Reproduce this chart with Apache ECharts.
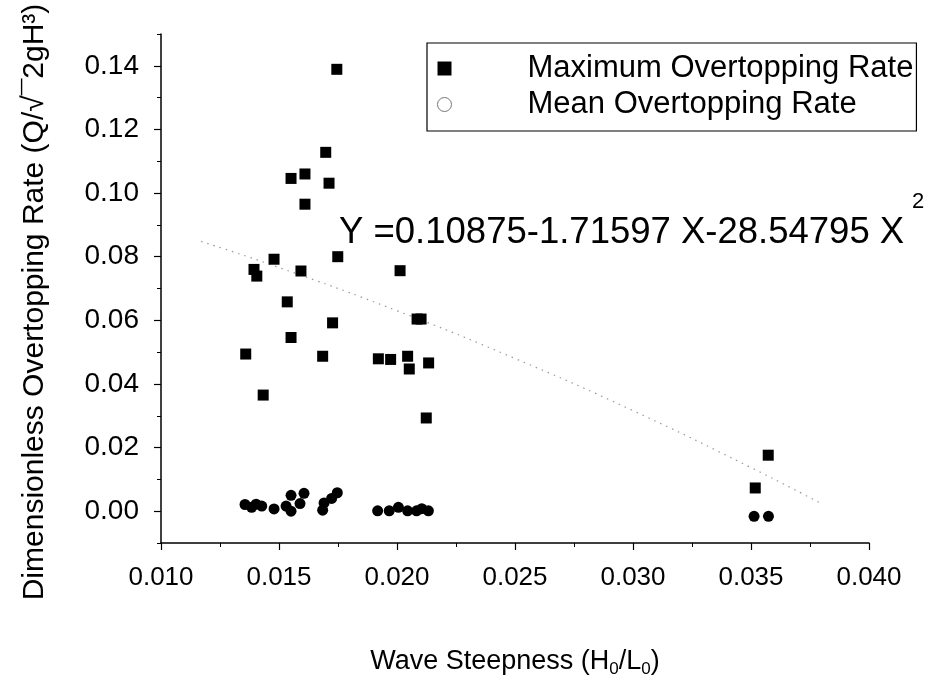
<!DOCTYPE html>
<html>
<head>
<meta charset="utf-8">
<script src="https://cdn.jsdelivr.net/npm/echarts@6/dist/echarts.min.js"></script>
<style>
  html, body { margin: 0; padding: 0; background: #fff; }
  #chart { width: 932px; height: 683px; }
</style>
</head>
<body>
<div id="chart"></div>
<script>
// ---- data ----
const maxX = [0.01745, 0.01698, 0.01610, 0.01551, 0.01712, 0.01610, 0.01479, 0.01749, 0.01394, 0.01406,
              0.01593, 0.02013, 0.01535, 0.01727, 0.02085, 0.02102, 0.01551, 0.01359, 0.01685, 0.01921,
              0.01973, 0.02045, 0.02052, 0.02134, 0.01433, 0.02124, 0.03573, 0.03518];
const maxY = [0.1389, 0.1128, 0.1060, 0.1046, 0.1031, 0.0965, 0.0792, 0.0800, 0.0760, 0.0739,
              0.0755, 0.0756, 0.0658, 0.0592, 0.0604, 0.0604, 0.0546, 0.0494, 0.0487, 0.0479,
              0.0477, 0.0487, 0.0447, 0.0466, 0.0365, 0.0293, 0.0176, 0.0073];

const meanX = [0.01356, 0.01384, 0.01403, 0.01427, 0.01479, 0.01530, 0.01551, 0.01551, 0.01589, 0.01606,
               0.01685, 0.01691, 0.01723, 0.01747, 0.01918, 0.01967, 0.02006, 0.02045, 0.02083, 0.02105,
               0.02133, 0.03513, 0.03574];
const meanY = [0.0021, 0.0012, 0.0022, 0.0016, 0.0007, 0.0016, 0.0050, 0.0000, 0.0024, 0.0056,
               0.0003, 0.0026, 0.0040, 0.0058, 0.0001, 0.0001, 0.0012, 0.0001, 0.0001, 0.0008,
               0.0001, -0.0016, -0.0016];

// fitted curve, points
const fitX = [0.0117, 0.015, 0.020, 0.025, 0.030, 0.035, 0.038];
const fitY = [0.0848, 0.0766, 0.0630, 0.0480, 0.0316, 0.0137, 0.0023];

const xTickValues = [0.010, 0.015, 0.020, 0.025, 0.030, 0.035, 0.040];
const yTickValues = [0.00, 0.02, 0.04, 0.06, 0.08, 0.10, 0.12, 0.14];
const yMinorTickValues = [-0.01, 0.01, 0.03, 0.05, 0.07, 0.09, 0.11, 0.13, 0.15];

const seriesNames = ['Maximum Overtopping Rate', 'Mean Overtopping Rate'];
const equationText = 'Y =0.10875-1.71597 X-28.54795 X';
const equationSup = '2';
const xTitle = ['Wave Steepness (H', '0', '/L', '0', ')'];
const yTitle = 'Dimensionless Overtopping Rate (Q/\u221A\u00AF2gH\u00B3)';

// ---- chart ----
const FONT = "'Liberation Sans', Arial, sans-serif";
const zip = (a, b) => a.map((v, i) => [v, b[i]]);

const chart = echarts.init(document.getElementById('chart'), null, { renderer: 'canvas' });

chart.setOption({
  backgroundColor: '#fff',
  animation: false,
  textStyle: { fontFamily: FONT, color: '#000' },
  grid: { left: 161, right: 63, top: 34, bottom: 140, containLabel: false },
  xAxis: {
    type: 'value',
    min: xTickValues[0],
    max: xTickValues[xTickValues.length - 1],
    interval: 0.005,
    axisLine: { show: true, onZero: false, lineStyle: { color: '#000', width: 1.5 } },
    axisTick: { show: true, inside: false, length: 7, lineStyle: { color: '#000', width: 1.2 } },
    minorTick: { show: true, splitNumber: 2, length: 4, lineStyle: { color: '#000', width: 1 } },
    splitLine: { show: false },
    axisLabel: {
      color: '#000', fontFamily: FONT, fontSize: 26, margin: 22,
      formatter: v => v.toFixed(3)
    },
    name: '{t|' + xTitle[0] + '}{s|' + xTitle[1] + '}{t|' + xTitle[2] + '}{s|' + xTitle[3] + '}{t|' + xTitle[4] + '}',
    nameLocation: 'middle',
    nameGap: 104,
    nameTextStyle: {
      rich: {
        t: { fontFamily: FONT, fontSize: 27, color: '#000', lineHeight: 30 },
        s: { fontFamily: FONT, fontSize: 17, color: '#000', lineHeight: 30, padding: [14, 0, 0, 0] }
      }
    }
  },
  yAxis: [
    {
      type: 'value',
      min: -0.01,
      max: 0.15,
      axisLine: { show: true, onZero: false, lineStyle: { color: '#000', width: 1.5 } },
      axisTick: { show: true, inside: false, length: 7, customValues: yTickValues, lineStyle: { color: '#000', width: 1.2 } },
      splitLine: { show: false },
      axisLabel: {
        color: '#000', fontFamily: FONT, fontSize: 28, margin: 22,
        customValues: yTickValues,
        formatter: v => v.toFixed(2)
      }
    },
    {
      type: 'value',
      min: -0.01,
      max: 0.15,
      position: 'left',
      axisLine: { show: false },
      axisTick: { show: true, inside: false, length: 4, customValues: yMinorTickValues, lineStyle: { color: '#000', width: 1 } },
      splitLine: { show: false },
      axisLabel: { show: false }
    }
  ],
  legend: {
    orient: 'vertical',
    left: 427,
    top: 43,
    padding: [8, 3, 9, 10],
    itemGap: 1,
    itemWidth: 14,
    itemHeight: 14,
    borderColor: '#000',
    borderWidth: 1.2,
    borderRadius: 0,
    textStyle: { fontFamily: FONT, fontSize: 31, color: '#000', padding: [0, 0, 0, 71], lineHeight: 35 },
    data: [
      { name: seriesNames[0], icon: 'rect', itemStyle: { color: '#000', opacity: 1 } },
      { name: seriesNames[1], icon: 'circle', itemStyle: { color: '#fff', borderColor: '#777', borderWidth: 1, opacity: 1 } }
    ]
  },
  graphic: [
    {
      type: 'text',
      x: 339, y: 233,
      style: { text: equationText, font: '36.5px ' + FONT, fill: '#000', textAlign: 'left', textVerticalAlign: 'middle' }
    },
    {
      type: 'text',
      x: 912, y: 202,
      style: { text: equationSup, font: '22px ' + FONT, fill: '#000', textAlign: 'left', textVerticalAlign: 'middle' }
    },
    {
      type: 'text',
      x: 35, y: 302,
      rotation: Math.PI / 2,
      style: { text: yTitle, font: '30px ' + FONT, fill: '#000', textAlign: 'center', textVerticalAlign: 'middle' }
    }
  ],
  series: [
    {
      name: seriesNames[0],
      type: 'scatter',
      symbol: 'rect',
      symbolSize: 11,
      itemStyle: { color: '#000', opacity: 1 },
      data: zip(maxX, maxY),
      z: 3
    },
    {
      name: seriesNames[1],
      type: 'scatter',
      symbol: 'circle',
      symbolSize: 11,
      itemStyle: { color: '#000', opacity: 1 },
      data: zip(meanX, meanY),
      z: 3
    },
    {
      name: 'fit',
      type: 'line',
      smooth: true,
      showSymbol: false,
      symbol: 'none',
      lineStyle: { color: '#999', width: 1.2, type: [1.5, 5] },
      data: zip(fitX, fitY),
      z: 2
    }
  ]
});
</script>
</body>
</html>
